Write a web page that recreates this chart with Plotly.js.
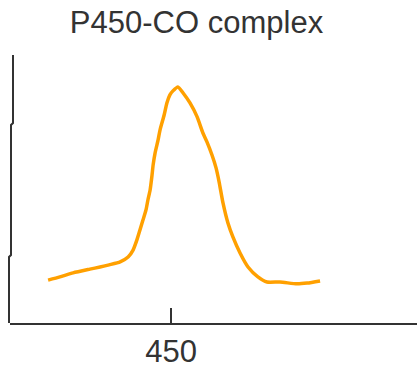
<!DOCTYPE html>
<html>
<head>
<meta charset="utf-8">
<script src="https://cdn.plot.ly/plotly-3.0.1.min.js"></script>
<style>html,body{margin:0;padding:0;background:#fff;}#chart{width:417px;height:370px;}</style>
</head>
<body>
<div id="chart"></div>
<script>
// Wavelength (nm) and absorbance (arbitrary units)
const wavelength = [405.3, 409.6, 414.4, 420.5, 424.2, 427.5, 431.5, 434.4, 436.2, 437.6,
  438.7, 439.8, 440.9, 441.6, 442.4, 443.1, 443.5, 444.2, 445.3, 446.0,
  447.5, 448.5, 449.6, 450.7, 452.5, 454.4, 456.9, 459.5, 461.6, 463.1,
  464.9, 466.4, 467.5, 468.9, 470.7, 472.5, 475.1, 478.0, 481.6, 484.9,
  489.6, 495.8, 499.5, 504.2];
const absorbance = [0.160, 0.172, 0.187, 0.201, 0.209, 0.217, 0.228, 0.246, 0.272, 0.310,
  0.347, 0.384, 0.422, 0.459, 0.496, 0.552, 0.590, 0.634, 0.683, 0.720,
  0.776, 0.821, 0.851, 0.866, 0.881, 0.858, 0.821, 0.769, 0.709, 0.675,
  0.627, 0.578, 0.526, 0.448, 0.373, 0.321, 0.261, 0.209, 0.172, 0.153,
  0.153, 0.146, 0.149, 0.157];
const tickValues = [450];
const tickLabels = ['450'];
const chartTitle = 'P450-CO complex';

const W = 417, H = 370, ML = 10, MR = 0, MT = 55, MB = 47;
const px = x => (x - ML) / (W - ML - MR);
const py = y => (H - MB - y) / (H - MT - MB);
// slightly hand-drawn vertical axis
const yAxisPath = 'M ' + px(13) + ',' + py(55) + ' L ' + px(13) + ',' + py(123) +
  ' L ' + px(11) + ',' + py(125) + ' L ' + px(11) + ',' + py(255) +
  ' L ' + px(9) + ',' + py(257) + ' L ' + px(9) + ',' + py(323);

const trace = {
  x: wavelength, y: absorbance, type: 'scatter', mode: 'lines',
  line: {color: '#FFA000', width: 3.5, shape: 'spline', smoothing: 0.6},
  hoverinfo: 'skip'
};
const layout = {
  width: W, height: H,
  margin: {l: ML, r: MR, t: MT, b: MB, pad: 0},
  paper_bgcolor: '#fff', plot_bgcolor: '#fff',
  showlegend: false,
  title: {text: chartTitle, x: 196.5 / W, xanchor: 'center', y: 1 - 22 / H, yanchor: 'middle',
    font: {family: 'Liberation Sans, Arial, sans-serif', size: 31, color: '#333'}},
  xaxis: {range: [391.45, 539.45], showgrid: false, zeroline: false,
    showline: true, linecolor: '#333', linewidth: 2,
    tickmode: 'array', tickvals: tickValues, ticktext: tickLabels,
    ticks: 'inside', ticklen: 15, tickwidth: 2, tickcolor: '#333',
    tickfont: {family: 'Liberation Sans, Arial, sans-serif', size: 31, color: '#333'}},
  yaxis: {range: [0, 1], showgrid: false, zeroline: false, showline: false,
    showticklabels: false, ticks: ''},
  shapes: [{type: 'path', xref: 'paper', yref: 'paper', path: yAxisPath,
    line: {color: '#333', width: 2}}]
};
Plotly.newPlot('chart', [trace], layout, {displayModeBar: false, staticPlot: true});
</script>
</body>
</html>
